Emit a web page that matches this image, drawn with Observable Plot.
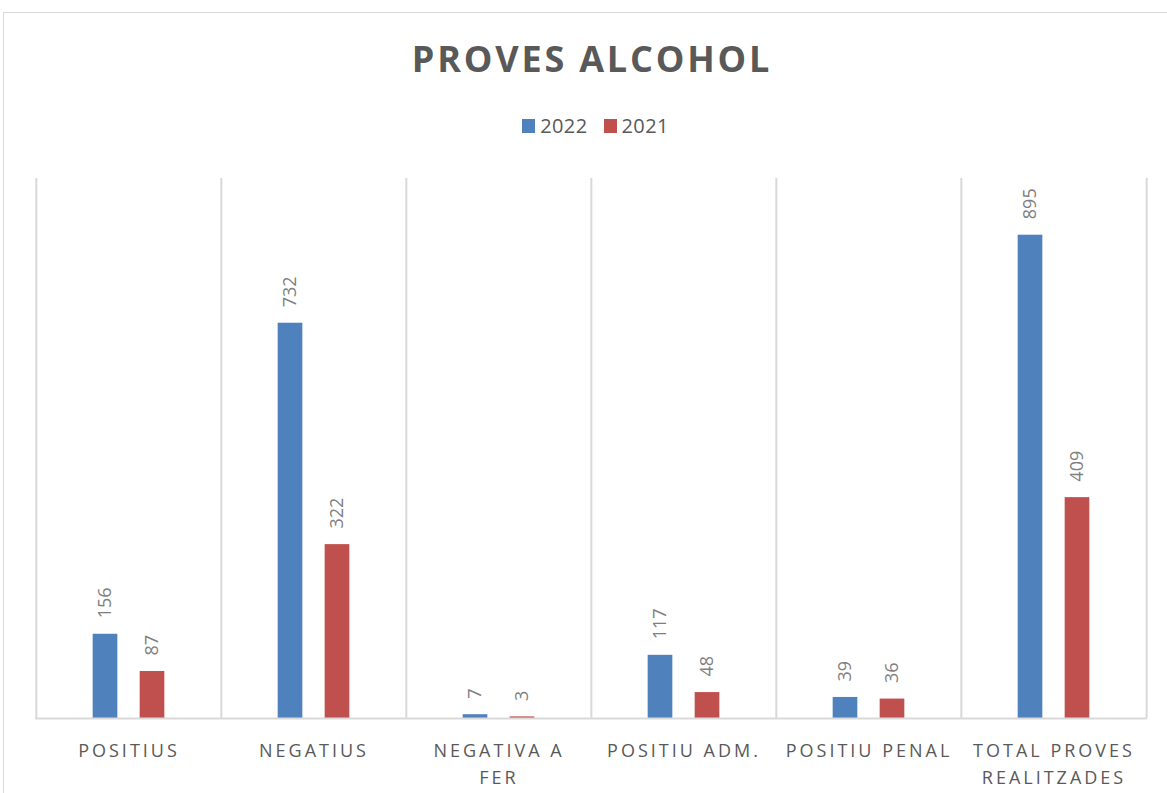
<!DOCTYPE html>
<html>
<head>
<meta charset="utf-8">
<script src="https://cdn.jsdelivr.net/npm/d3@7"></script>
<script src="https://cdn.jsdelivr.net/npm/@observablehq/plot@0.6"></script>
<style>
  html, body { margin: 0; padding: 0; background: #fff; overflow: hidden; }
  body { width: 1167px; height: 793px; position: relative; font-family: "Open Sans", sans-serif; }
  #frame { position: absolute; left: 3px; top: 12px; width: 1190px; height: 820px; border: 1px solid #d9d9d9; box-sizing: border-box; }
  #title { position: absolute; left: 0; top: 41px; width: 1184px; text-align: center; font: bold 36px/36px "Open Sans", sans-serif; letter-spacing: 2.8px; color: #595959; }
  #legend { position: absolute; left: 0; top: 113px; width: 1191px; display: flex; justify-content: center; align-items: center; font: 20px/26px "Open Sans", sans-serif; letter-spacing: 0.4px; color: #595959; }
  #legend .item { display: flex; align-items: center; margin: 0 8px; }
  #legend .sw { width: 13px; height: 14px; margin-right: 5px; }
  #chart { position: absolute; left: 0; top: 160px; }
  #chart svg g[aria-label="x-axis tick label"] { letter-spacing: 3px; }
</style>
</head>
<body>
<div id="frame"></div>
<div id="title">PROVES ALCOHOL</div>
<div id="legend"></div>
<div id="chart"></div>
<script>
const categories = ["POSITIUS", "NEGATIUS", "NEGATIVA A FER", "POSITIU ADM.", "POSITIU PENAL", "TOTAL PROVES REALITZADES"];
const tickLabels = ["POSITIUS", "NEGATIUS", "NEGATIVA A\nFER", "POSITIU ADM.", "POSITIU PENAL", "TOTAL PROVES\nREALITZADES"];
const series = ["2022", "2021"];
const values2022 = [156, 732, 7, 117, 39, 895];
const values2021 = [87, 322, 3, 48, 36, 409];
const colors = ["#4F81BD", "#C0504D"];

const rows2022 = categories.map((c, i) => ({category: c, series: "2022", value: values2022[i]}));
const rows2021 = categories.map((c, i) => ({category: c, series: "2021", value: values2021[i]}));

// legend
const legend = document.getElementById("legend");
series.forEach((s, i) => {
  const it = document.createElement("div");
  it.className = "item";
  it.innerHTML = `<span class="sw" style="background:${colors[i]}"></span><span>${s}</span>`;
  legend.appendChild(it);
});

const W = 1167, H = 633, mL = 35, mR = 20, mT = 18, mB = 75;
const bw = (W - mL - mR) / categories.length;
const barW = 25, off = 23.5;
const inA = bw / 2 - off - barW / 2;      // inset on near side
const inB = bw - inA - barW;              // inset on far side

const chart = Plot.plot({
  width: W,
  height: H,
  marginLeft: mL,
  marginRight: mR,
  marginTop: mT,
  marginBottom: mB,
  style: {fontFamily: "'Open Sans', sans-serif", color: "#595959", background: "transparent"},
  x: {domain: categories, padding: 0, label: null},
  y: {domain: [0, 1000], axis: null},
  color: {domain: series, range: colors},
  marks: [
    Plot.ruleX(categories, {x: d => d, dx: -bw / 2, y1: 0, y2: 1000, stroke: "#d9d9d9", strokeWidth: 2}),
    Plot.ruleX([categories[categories.length - 1]], {x: d => d, dx: bw / 2, y1: 0, y2: 1000, stroke: "#d9d9d9", strokeWidth: 2}),
    Plot.barY(rows2022, {x: "category", y: "value", fill: "series", insetLeft: inA, insetRight: inB}),
    Plot.barY(rows2021, {x: "category", y: "value", fill: "series", insetLeft: inB, insetRight: inA}),
    Plot.ruleY([0], {stroke: "#d9d9d9", strokeWidth: 2}),
    Plot.text(rows2022, {x: "category", y: "value", text: d => String(d.value), dx: -off, dy: -16, rotate: -90, textAnchor: "start", lineAnchor: "middle", fill: "#808080", fontSize: 18}),
    Plot.text(rows2021, {x: "category", y: "value", text: d => String(d.value), dx: off, dy: -16, rotate: -90, textAnchor: "start", lineAnchor: "middle", fill: "#808080", fontSize: 18}),
    Plot.axisX({tickSize: 0, tickPadding: 19, fontSize: 18, lineHeight: 1.5, label: null,
      tickFormat: d => tickLabels[categories.indexOf(d)]})
  ]
});
document.getElementById("chart").appendChild(chart);
</script>
</body>
</html>
